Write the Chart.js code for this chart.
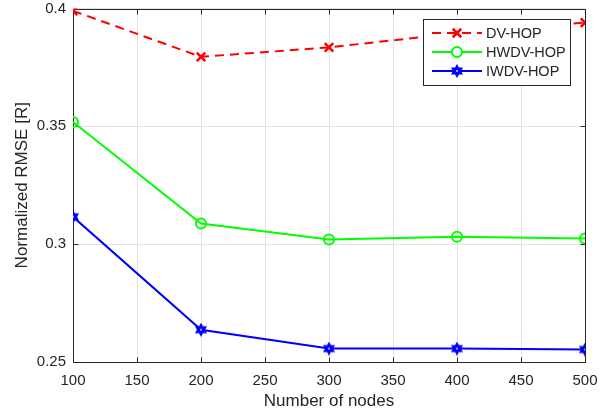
<!DOCTYPE html>
<html>
<head>
<meta charset="utf-8">
<script src="https://cdn.jsdelivr.net/npm/chart.js@4.4.1/dist/chart.umd.min.js"></script>
<style>
html, body { margin: 0; padding: 0; background: #fff; }
#wrap { width: 611px; height: 419px; }
</style>
</head>
<body>
<div id="wrap"><canvas id="myChart"></canvas></div>
<script>
// data
const nodes = [100, 200, 300, 400, 500];
const dvHop = [0.399, 0.3795, 0.3835, 0.3895, 0.394];
const hwdvHop = [0.3518, 0.3088, 0.302, 0.3032, 0.3024];
const iwdvHop = [0.3116, 0.2637, 0.2557, 0.2557, 0.2553];
const xTicks = [100, 150, 200, 250, 300, 350, 400, 450, 500];
const yTicks = [0.25, 0.3, 0.35, 0.4];
const seriesNames = ['DV-HOP', 'HWDV-HOP', 'IWDV-HOP'];

const AXIS = '#262626';
const FONT = '"Liberation Sans", Arial, Helvetica, sans-serif';
Chart.defaults.font.family = FONT;
Chart.defaults.color = AXIS;

// matlab-like hexagram marker
function hexagram(size, color) {
    const c = document.createElement('canvas');
    c.width = c.height = size;
    const g = c.getContext('2d');
    const cx = size / 2, cy = size / 2, r = size / 2 - 1.5;
    g.beginPath();
    for (let i = 0; i < 12; i++) {
        const a = -Math.PI / 2 + i * Math.PI / 6;
        const rr = i % 2 === 0 ? r : r * 0.577;
        g.lineTo(cx + rr * Math.cos(a), cy + rr * Math.sin(a));
    }
    g.closePath();
    g.fillStyle = color;
    g.fill();
    g.strokeStyle = color;
    g.lineWidth = 1.5;
    g.stroke();
    g.fillStyle = 'rgba(255,255,255,0.6)';
    g.fillRect(cx - 1, cy - 1, 2, 2);
    return c;
}
const star = hexagram(14, '#0000ff');

const styles = [
    { color: '#ff0000', dash: [9, 6], point: 'crossRot', radius: 6 },
    { color: '#00ff00', dash: [], point: 'circle', radius: 5 },
    { color: '#0000ff', dash: [], point: star, radius: 6 }
];

// box + inward ticks
const framePlugin = {
    id: 'frame',
    beforeDatasetsDraw(chart) {
        const { ctx, chartArea: a, scales } = chart;
        const L = Math.round(a.left) + 0.5, R = Math.round(a.right) + 0.5;
        const T = Math.round(a.top) + 0.5, B = Math.round(a.bottom) + 0.5;
        ctx.save();
        ctx.strokeStyle = AXIS;
        ctx.lineWidth = 1;
        ctx.strokeRect(L, T, R - L, B - T);
        ctx.beginPath();
        xTicks.forEach(v => {
            const x = Math.round(scales.x.getPixelForValue(v)) + 0.5;
            ctx.moveTo(x, B); ctx.lineTo(x, B - 5);
            ctx.moveTo(x, T); ctx.lineTo(x, T + 5);
        });
        yTicks.forEach(v => {
            const y = Math.round(scales.y.getPixelForValue(v)) + 0.5;
            ctx.moveTo(L, y); ctx.lineTo(L + 5, y);
            ctx.moveTo(R, y); ctx.lineTo(R - 5, y);
        });
        ctx.stroke();
        ctx.restore();
    }
};

// legend inside the axes, top right
const legendPlugin = {
    id: 'boxLegend',
    afterDraw(chart) {
        const ctx = chart.ctx;
        const bx = 423.5, by = 19.5, bw = 147, bh = 66;
        ctx.save();
        ctx.fillStyle = '#fff';
        ctx.fillRect(bx, by, bw, bh);
        ctx.strokeStyle = AXIS;
        ctx.lineWidth = 1;
        ctx.strokeRect(bx, by, bw, bh);
        ctx.font = '14.5px ' + FONT;
        ctx.textBaseline = 'middle';
        ctx.textAlign = 'left';
        seriesNames.forEach((name, i) => {
            const s = styles[i];
            const y = 33 + i * 19;
            ctx.strokeStyle = s.color;
            ctx.lineWidth = 2;
            ctx.setLineDash(s.dash);
            ctx.beginPath();
            ctx.moveTo(432, y); ctx.lineTo(482, y);
            ctx.stroke();
            ctx.setLineDash([]);
            if (typeof s.point === 'string') {
                ctx.lineWidth = s.point === 'crossRot' ? 2.5 : 2;
                ctx.fillStyle = s.point === 'circle' ? '#fff' : s.color;
                Chart.helpers.drawPoint(ctx, { pointStyle: s.point, radius: s.radius, borderWidth: ctx.lineWidth }, 457, y);
            } else {
                ctx.drawImage(s.point, 457 - 7, y - 7);
            }
            ctx.fillStyle = AXIS;
            ctx.fillText(name, 486, y + 1);
        });
        ctx.restore();
    }
};

const datasets = [dvHop, hwdvHop, iwdvHop].map((vals, i) => ({
    label: seriesNames[i],
    data: nodes.map((n, j) => ({ x: n, y: vals[j] })),
    borderColor: styles[i].color,
    backgroundColor: styles[i].color,
    borderWidth: 2,
    borderDash: styles[i].dash,
    pointStyle: styles[i].point,
    pointRadius: styles[i].radius,
    pointBorderWidth: i === 0 ? 2.5 : 2,
    pointBackgroundColor: i === 1 ? 'rgba(255,255,255,0)' : styles[i].color,
    pointBorderColor: styles[i].color,
    tension: 0,
    fill: false
}));

const ctx = document.getElementById('myChart').getContext('2d');
const myChart = new Chart(ctx, {
    type: 'line',
    data: { datasets: datasets },
    options: {
        responsive: true,
        maintainAspectRatio: false,
        animation: false,
        layout: { padding: { left: 0, top: 4, right: 26, bottom: 0 } },
        plugins: { legend: { display: false }, tooltip: { enabled: false } },
        scales: {
            x: {
                type: 'linear',
                min: 100,
                max: 500,
                afterBuildTicks: s => { s.ticks = xTicks.map(v => ({ value: v })); },
                afterFit: s => { s.height = 57; s.paddingLeft = 0; s.paddingRight = 0; },
                ticks: { font: { size: 15 }, color: AXIS, padding: 10, maxRotation: 0, autoSkip: false,
                         callback: v => String(v) },
                grid: { color: '#e3e3e3', drawTicks: false },
                border: { display: false },
                title: { display: true, text: 'Number of nodes', font: { size: 17 }, color: AXIS,
                         padding: { top: 0, bottom: 7 } }
            },
            y: {
                type: 'linear',
                min: 0.25,
                max: 0.4,
                afterBuildTicks: s => { s.ticks = yTicks.map(v => ({ value: v })); },
                afterFit: s => { s.width = 73; s.paddingTop = 0; s.paddingBottom = 0; },
                ticks: { font: { size: 15 }, color: AXIS, padding: 7, autoSkip: false,
                         callback: v => String(+v.toFixed(2)) },
                grid: { color: '#e3e3e3', drawTicks: false },
                border: { display: false },
                title: { display: true, text: 'Normalized RMSE [R]', font: { size: 17 }, color: AXIS,
                         padding: { top: 12, bottom: 0 } }
            }
        }
    },
    plugins: [framePlugin, legendPlugin]
});
</script>
</body>
</html>
